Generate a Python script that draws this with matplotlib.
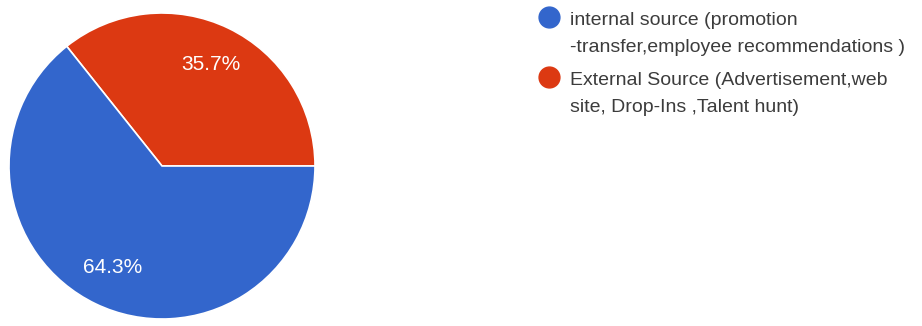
import matplotlib
matplotlib.use("Agg")
import matplotlib.pyplot as plt
from matplotlib.lines import Line2D

plt.rcParams["font.family"] = ["Liberation Sans", "DejaVu Sans"]

labels = [
    ["internal source (promotion", "-transfer,employee recommendations )"],
    ["External Source (Advertisement,web", "site, Drop-Ins ,Talent hunt)"],
]
shares = [64.3, 35.7]
colors = ["#3366CC", "#DC3912"]

W, H = 922, 326
fig = plt.figure(figsize=(W / 100, H / 100), dpi=100)

# pie occupies the left square; red slice starts at 3 o'clock going ccw
cx, cy, r = 162, 166, 153
ax = fig.add_axes([(cx - r) / W, (H - cy - r) / H, 2 * r / W, 2 * r / H])
order = [1, 0]
wedges, texts, autotexts = ax.pie(
    [shares[i] for i in order],
    colors=[colors[i] for i in order],
    startangle=0, counterclock=True,
    autopct="%.1f%%", pctdistance=0.74,
    wedgeprops={"edgecolor": "white", "linewidth": 1.2},
    textprops={"color": "white", "fontsize": 15},
)
ax.set_xlim(-1, 1)
ax.set_ylim(-1, 1)
ax.set_aspect("equal")

# legend drawn by hand so the dot lines up with the first text line
lg = fig.add_axes([0, 0, 1, 1])
lg.set_xlim(0, W)
lg.set_ylim(H, 0)
lg.axis("off")
for lines, color, y in zip(labels, colors, [17, 77]):
    lg.add_line(Line2D([549], [y], marker="o", markersize=15,
                       color=color, linestyle="none"))
    for k, line in enumerate(lines):
        lg.text(570, y + 8 + 26.5 * k, line, fontsize=14, color="#3c3c3c",
                va="baseline", ha="left")

fig.savefig("out.png", dpi=100)
